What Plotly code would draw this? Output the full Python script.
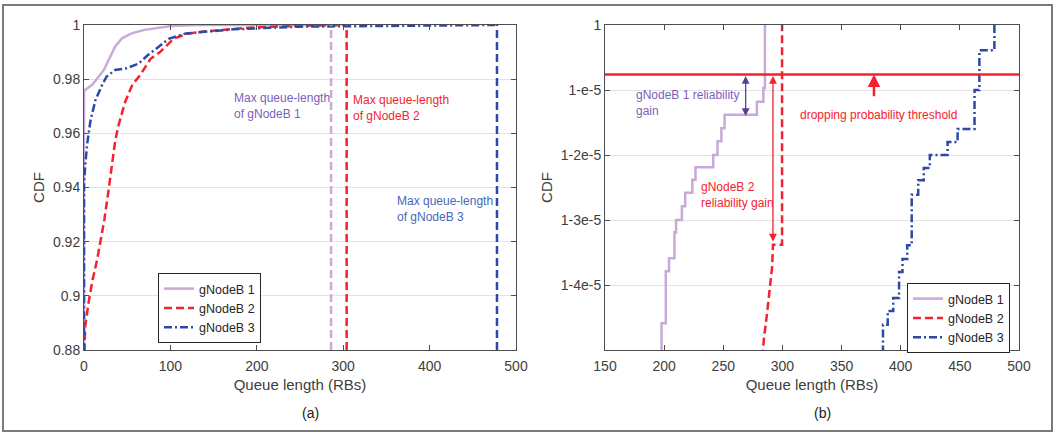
import plotly.graph_objects as go

W, H = 1058, 436
FONT = "Liberation Sans"

# ---- colours
c1 = "#c9a9d8"   # gNodeB 1 (lavender)
c2 = "#f5222d"   # gNodeB 2 (red)
c3 = "#2b49a8"   # gNodeB 3 (blue)
c_txt1 = "#7b5fb8"
c_arrow1 = "#5a3d99"
c_txt3 = "#4767b8"

names = ["gNodeB 1", "gNodeB 2", "gNodeB 3"]

# ---- panel (a): CDF of queue length
q1_a = [0, 0, 9.5, 15, 23, 28.5, 36, 44, 55, 70, 101, 131, 286]
cdf1_a = [0.85, 0.9757, 0.9779, 0.9803, 0.9834, 0.9871, 0.9920, 0.9951, 0.9969, 0.9982, 0.9996, 1.0, 1.0]

q2_a = [0, 1.5, 5.5, 10, 15, 19, 23.5, 28, 32, 36, 40, 47.5, 56, 65, 77, 88, 104, 120, 142, 200, 250, 304]
cdf2_a = [0.875, 0.889, 0.898, 0.906, 0.913, 0.920, 0.928, 0.938, 0.948, 0.957, 0.963, 0.9715, 0.978,
          0.9815, 0.9875, 0.990, 0.995, 0.9968, 0.9977, 0.9992, 0.9997, 1.0]

q3_a = [0, 0, 1.9, 3.8, 7.6, 13.3, 20.9, 26, 36, 49, 63, 74, 85, 98, 118, 173, 250, 366, 400, 478]
cdf3_a = [0.85, 0.9415, 0.950, 0.9563, 0.9649, 0.9723, 0.9778, 0.9809, 0.9834, 0.9840, 0.9857, 0.9889,
          0.9916, 0.9949, 0.9969, 0.9984, 0.9994, 0.9998, 1.0, 1.0]

max_q = [286, 304, 478]

# ---- panel (b): zoom on the tail, deficits in units of 1e-5 (CDF = 1 - d*1e-5)
q1_b = [197.8, 201.4, 204.1, 208.7, 210.1, 215.0, 217.8, 223.8, 226.5, 241.5, 245.1, 248.4, 251.1,
        278.4, 283.9, 285.2, 285.2]
d1_b = [5.3, 4.59, 3.79, 3.59, 3.19, 3.0, 2.79, 2.58, 2.38, 2.19, 2.0, 1.79, 1.59, 1.38, 1.18, 0.97, 0.0]

q2_b = [282.0, 284.5, 287.0, 289.3, 291.3, 292.0, 299.7, 299.7]
d2_b = [5.3, 4.8, 4.44, 4.08, 3.72, 3.38, 3.38, 0.0]

q3_b = [385.0, 389.0, 393.7, 398.6, 401.5, 405.5, 409.3, 414.8, 419.5, 424.6, 439.6, 448.1, 462.4,
        466.5, 479.2, 479.2]
d3_b = [5.3, 4.61, 4.40, 4.20, 3.80, 3.60, 3.39, 2.61, 2.39, 2.20, 2.0, 1.80, 1.60, 1.0, 0.39, 0.0]

threshold_d = 0.76
gain1 = [268.9, 0.76, 1.40]   # x, from, to (deficit units)
gain2 = [292.0, 0.76, 3.33]

yticks_b = [0, 1, 2, 3, 4]
yticklabels_b = ["1", "1-e-5", "1-2e-5", "1-3e-5", "1-4e-5"]


def cdf(d_list):
    return [1 - d * 1e-5 for d in d_list]


styles = [
    dict(color=c1, width=2.5),
    dict(color=c2, width=2.5, dash="8px,4px"),
    dict(color=c3, width=2.5, dash="8px,3px,2px,3px"),
]

fig = go.Figure()

# panel (a)
for q, c, name, st in zip([q1_a, q2_a, q3_a], [cdf1_a, cdf2_a, cdf3_a], names, styles):
    fig.add_trace(go.Scatter(x=q, y=c, mode="lines", name=name, line=st,
                             xaxis="x", yaxis="y", legend="legend"))
for m, col in zip(max_q, [c1, c2, c3]):
    fig.add_trace(go.Scatter(x=[m, m], y=[0.88, 1.0], mode="lines", showlegend=False,
                             line=dict(color=col, width=2.5, dash="8px,4px"),
                             xaxis="x", yaxis="y"))

# panel (b)
for q, d, name, st in zip([q1_b, q2_b, q3_b], [d1_b, d2_b, d3_b], names, styles):
    shape = "linear" if name == "gNodeB 2" else "vh"
    fig.add_trace(go.Scatter(x=q, y=cdf(d), mode="lines", name=name,
                             line=dict(st, shape=shape),
                             xaxis="x2", yaxis="y2", legend="legend2"))
fig.add_trace(go.Scatter(x=[150, 500], y=cdf([threshold_d, threshold_d]), mode="lines",
                         showlegend=False, line=dict(color=c2, width=2.5),
                         xaxis="x2", yaxis="y2"))

axis_common = dict(
    showline=True, linecolor="#4d4d4d", linewidth=1, mirror="ticks",
    ticks="inside", ticklen=5, tickcolor="#4d4d4d", zeroline=False, automargin=False,
    tickfont=dict(family=FONT, size=14, color="#404040"),
    title_font=dict(family=FONT, size=15, color="#404040"),
)

legend_common = dict(xanchor="left", yanchor="top", bgcolor="white", bordercolor="#262626",
                     borderwidth=1, font=dict(family=FONT, size=12.5, color="#262626"),
                     tracegroupgap=0, itemwidth=30)

fig.update_layout(
    width=W, height=H,
    margin=dict(l=0, r=0, t=0, b=0),
    paper_bgcolor="white", plot_bgcolor="white",
    font=dict(family=FONT, size=12, color="#404040"),
    xaxis=dict(axis_common, domain=[84 / W, 516 / W], range=[0, 500], tickvals=[0, 100, 200, 300, 400, 500],
               showgrid=False, anchor="y", ticklabelstandoff=3,
               title=dict(text="Queue length (RBs)", standoff=6)),
    yaxis=dict(axis_common, domain=[1 - 350 / H, 1 - 25 / H], range=[0.88, 1.0],
               tickvals=[0.88, 0.9, 0.92, 0.94, 0.96, 0.98, 1.0],
               ticktext=["0.88", "0.9", "0.92", "0.94", "0.96", "0.98", "1"],
               showgrid=True, gridcolor="#e3e3e3", anchor="x",
               title=dict(text="CDF", standoff=4)),
    xaxis2=dict(axis_common, domain=[605 / W, 1019 / W], range=[150, 500],
                tickvals=[150, 200, 250, 300, 350, 400, 450, 500],
                showgrid=False, anchor="y2", ticklabelstandoff=3,
                title=dict(text="Queue length (RBs)", standoff=6)),
    yaxis2=dict(axis_common, domain=[1 - 350 / H, 1 - 25 / H], range=[1 - 5e-5, 1.0],
                tickvals=cdf(yticks_b), ticktext=yticklabels_b,
                showgrid=True, gridcolor="#e3e3e3", anchor="x2",
                title=dict(text="CDF", standoff=4)),
    legend=dict(legend_common, x=158 / W, y=1 - 273 / H),
    legend2=dict(legend_common, x=907 / W, y=1 - 283 / H),
    showlegend=True,
)

ann_font = dict(family=FONT, size=12)
annotations = [
    dict(x=171, y=0.9701, xref="x", yref="y", text="Max queue-length<br>of gNodeB 1",
         font=dict(ann_font, color=c_txt1)),
    dict(x=309, y=0.9692, xref="x", yref="y", text="Max queue-length<br>of gNodeB 2",
         font=dict(ann_font, color=c2)),
    dict(x=360, y=0.9319, xref="x", yref="y", text="Max queue-length<br>of gNodeB 3",
         font=dict(ann_font, color=c_txt3)),
    dict(x=174.5, y=1 - 1.2e-5, xref="x2", yref="y2", text="gNodeB 1 reliability<br>gain",
         font=dict(ann_font, color=c_txt1)),
    dict(x=229.5, y=1 - 2.62e-5, xref="x2", yref="y2", text="gNodeB 2<br>reliability gain",
         font=dict(ann_font, color=c2)),
    dict(x=312.9, y=1 - 1.385e-5, xref="x2", yref="y2", text="dropping probability threshold",
         font=dict(ann_font, color=c2)),
]
for a in annotations:
    a.update(showarrow=False, xanchor="left", yanchor="middle", align="left")
    fig.add_annotation(**a)

# arrows in panel (b)
for (gx, d0, d1), col in [(gain1, c_arrow1), (gain2, c2)]:
    fig.add_annotation(x=gx, y=1 - d1 * 1e-5, ax=gx, ay=1 - d0 * 1e-5, xref="x2", yref="y2",
                       axref="x2", ayref="y2", text="", showarrow=True, arrowside="end+start",
                       arrowhead=2, arrowsize=1.2, arrowwidth=1.3, arrowcolor=col)
fig.add_annotation(x=377.4, y=1 - threshold_d * 1e-5, ax=377.4, ay=1 - 1.12e-5, xref="x2", yref="y2",
                   axref="x2", ayref="y2", text="", showarrow=True, arrowhead=2, arrowsize=1,
                   arrowwidth=2.5, arrowcolor=c2)

# panel labels
for lbl, px in [("(a)", 310), ("(b)", 822)]:
    fig.add_annotation(x=px / W, y=1 - 413 / H, xref="paper", yref="paper", text=lbl,
                       xanchor="center", yanchor="middle", showarrow=False,
                       font=dict(family=FONT, size=14, color="#222222"))

# outer frame
fig.add_shape(type="rect", xref="paper", yref="paper", x0=3 / W, x1=1052 / W, y0=1 - 431 / H, y1=1 - 5 / H,
              line=dict(color="#7a7a7a", width=2))

# page body margin would shift the fixed-size figure
fig.write_html("out.html", config={"displayModeBar": False},
               post_script="document.body.style.margin='0';")
